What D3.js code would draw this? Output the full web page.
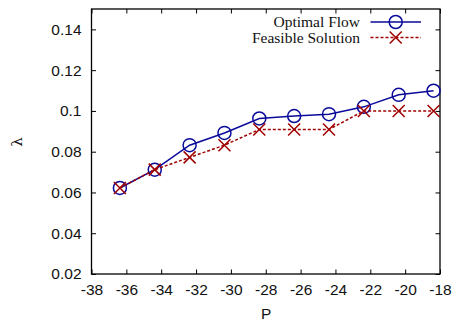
<!DOCTYPE html>
<html>
<head>
<meta charset="utf-8">
<script src="https://cdn.jsdelivr.net/npm/d3@7"></script>
<style>
  body { margin: 0; background: #fff; }
  svg { display: block; }
</style>
</head>
<body>
<svg id="chart" width="453" height="322"></svg>
<script>
// data
const powers = [-36.37, -34.37, -32.37, -30.37, -28.37, -26.37, -24.37, -22.37, -20.37, -18.37];
const optimalFlow = [0.0622, 0.0712, 0.0832, 0.0892, 0.0963, 0.0975, 0.0984, 0.1020, 0.1079, 0.1099];
const feasibleSolution = [0.0622, 0.0712, 0.0772, 0.0832, 0.0909, 0.0909, 0.0909, 0.1000, 0.1000, 0.1000];
const xTicks = [-38, -36, -34, -32, -30, -28, -26, -24, -22, -20, -18];
const yTicks = [0.02, 0.04, 0.06, 0.08, 0.1, 0.12, 0.14];
const seriesNames = ['Optimal Flow', 'Feasible Solution'];

const margin = { top: 9, right: 13, bottom: 48, left: 91.5 };
const width = 453, height = 322;

const svg = d3.select('#chart');

const x = d3.scaleLinear().domain([-38, -18]).range([margin.left, width - margin.right]);
const y = d3.scaleLinear().domain([0.02, 0.15]).range([height - margin.bottom, margin.top]);

const tickLen = 4.5;
const font = '"Liberation Sans", Arial, sans-serif';

// axes with inward ticks on all four sides
const axBottom = svg.append('g')
  .attr('transform', `translate(0,${y.range()[0]})`)
  .call(d3.axisBottom(x).tickValues(xTicks).tickSizeInner(-tickLen).tickSizeOuter(0).tickPadding(10).tickFormat(d => String(d)));
const axTop = svg.append('g')
  .attr('transform', `translate(0,${y.range()[1]})`)
  .call(d3.axisTop(x).tickValues(xTicks).tickSizeInner(-tickLen).tickSizeOuter(0).tickFormat(''));
const axLeft = svg.append('g')
  .attr('transform', `translate(${x.range()[0]},0)`)
  .call(d3.axisLeft(y).tickValues(yTicks).tickSizeInner(-tickLen).tickSizeOuter(0).tickPadding(10).tickFormat(d => String(+d.toFixed(2))));
const axRight = svg.append('g')
  .attr('transform', `translate(${x.range()[1]},0)`)
  .call(d3.axisRight(y).tickValues(yTicks).tickSizeInner(-tickLen).tickSizeOuter(0).tickFormat(''));

[axBottom, axTop, axLeft, axRight].forEach(g => {
  g.select('.domain').remove();
  g.selectAll('.tick line').attr('stroke', '#000').attr('stroke-width', 1);
  g.selectAll('text').attr('font-family', font).attr('font-size', 15.5).attr('fill', '#111');
});

// frame
svg.append('rect')
  .attr('x', x.range()[0]).attr('y', y.range()[1])
  .attr('width', x.range()[1] - x.range()[0])
  .attr('height', y.range()[0] - y.range()[1])
  .attr('fill', 'none').attr('stroke', '#000').attr('stroke-width', 1.3);

// axis titles
svg.append('text')
  .attr('x', (x.range()[0] + x.range()[1]) / 2 + 0.5).attr('y', 319)
  .attr('text-anchor', 'middle')
  .attr('font-family', font).attr('font-size', 15.5).attr('fill', '#111')
  .text('P');
svg.append('text')
  .attr('transform', 'translate(17,142) rotate(-90)')
  .attr('text-anchor', 'middle').attr('dominant-baseline', 'central')
  .attr('font-family', '"DejaVu Serif", serif').attr('font-size', 15).attr('fill', '#111')
  .text('λ');

const blue = '#0a0a9a';
const red = '#a00000';

const line = d3.line().x(d => x(d[0])).y(d => y(d[1]));
const optPts = powers.map((p, i) => [p, optimalFlow[i]]);
const feasPts = powers.map((p, i) => [p, feasibleSolution[i]]);

function circleMark(g, cx, cy) {
  g.append('circle').attr('cx', cx).attr('cy', cy).attr('r', 6.5)
    .attr('fill', 'none').attr('stroke', blue).attr('stroke-width', 1.5);
}
function crossMark(g, cx, cy) {
  const s = 6;
  g.append('path')
    .attr('d', `M${cx - s},${cy - s}L${cx + s},${cy + s}M${cx - s},${cy + s}L${cx + s},${cy - s}`)
    .attr('stroke', red).attr('stroke-width', 1.5).attr('fill', 'none');
}

const plot = svg.append('g');
plot.append('path').attr('d', line(optPts))
  .attr('fill', 'none').attr('stroke', blue).attr('stroke-width', 1.5);
optPts.forEach(d => circleMark(plot, x(d[0]), y(d[1])));

plot.append('path').attr('d', line(feasPts))
  .attr('fill', 'none').attr('stroke', red).attr('stroke-width', 1.5)
  .attr('stroke-dasharray', '3,2');
feasPts.forEach(d => crossMark(plot, x(d[0]), y(d[1])));

// legend
const legend = svg.append('g');
const legendRows = [22, 37.5];
seriesNames.forEach((name, i) => {
  const ly = legendRows[i];
  legend.append('text')
    .attr('x', 360).attr('y', ly).attr('dy', '0.35em')
    .attr('text-anchor', 'end')
    .attr('font-family', '"Liberation Serif", "Times New Roman", serif')
    .attr('font-size', 15.5).attr('fill', '#111')
    .text(name);
  legend.append('line')
    .attr('x1', 370.5).attr('x2', 421).attr('y1', ly).attr('y2', ly)
    .attr('stroke', i === 0 ? blue : red).attr('stroke-width', 1.5)
    .attr('stroke-dasharray', i === 0 ? null : '3,2');
  if (i === 0) circleMark(legend, 395.7, ly);
  else crossMark(legend, 395.7, ly);
});
</script>
</body>
</html>
